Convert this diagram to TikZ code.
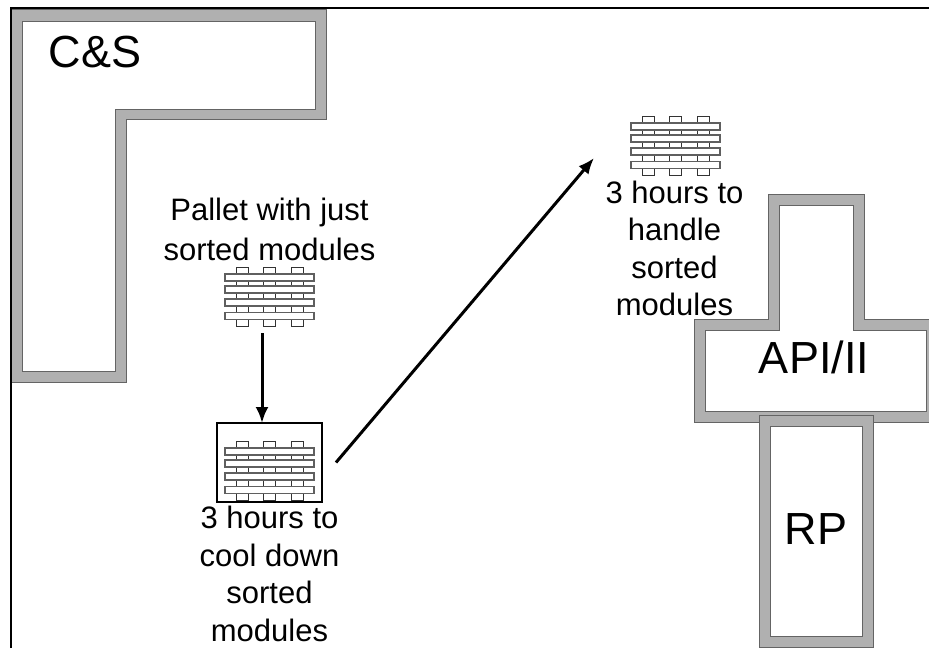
\documentclass[tikz,border=0pt]{standalone}
\usepackage{fontspec}
\setmainfont{Liberation Sans}
\usetikzlibrary{positioning,arrows.meta}
\definecolor{wallgray}{RGB}{176,176,176}
\definecolor{walledge}{RGB}{100,100,100}
\definecolor{baredge}{RGB}{95,95,95}

\begin{document}
\begin{tikzpicture}[
    x=1pt, y=-1pt,
    wall/.style={draw=walledge, line width=1pt, fill=wallgray, line join=miter},
    room/.style={draw=walledge, line width=1pt, fill=white, line join=miter},
    roomname/.style={font=\fontsize{45}{50}\selectfont, inner sep=0pt},
    note/.style={font=\fontsize{31}{37.6}\selectfont, align=center, inner sep=0pt},
    palletspot/.style={minimum width=89pt, minimum height=59pt, inner sep=0pt, outer sep=0pt},
    coolbox/.style={draw, line width=1.8pt, minimum width=105pt, minimum height=79pt, inner sep=0pt, outer sep=0pt},
    arrow/.style={-{Latex[length=16pt,width=13pt]}, line width=3pt},
    pallet/.pic={
        \foreach \px in {-27.5,0,27.5}
            \draw[black!80, line width=0.9pt] (\px-6,-29.5) rectangle (\px+6,29.5);
        \foreach \py in {-19,-7,6,19.5}
            \draw[draw=baredge, fill=white, line width=1.1pt] (-44.5,\py-3.5) rectangle (44.5,\py+3.5);
    }
]
    \useasboundingbox (0,0) rectangle (929,648);
    \clip (0,0) rectangle (929,648);

    % Walls
    \draw[wall] (10.5,9) -- (326,9) -- (326,119) -- (126,119) -- (126,382) -- (10.5,382) -- cycle;
    \draw[room] (22,21) -- (315,21) -- (315,109) -- (115,109) -- (115,371) -- (22,371) -- cycle;
    \draw[wall] (768,194) -- (864,194) -- (864,319) -- (940,319) -- (940,422) -- (694,422) -- (694,319) -- (768,319) -- cycle;
    \draw[room] (779,205) -- (853,205) -- (853,330) -- (926,330) -- (926,411) -- (705,411) -- (705,330) -- (779,330) -- cycle;
    \draw[wall] (759,415) rectangle (873,647);
    \draw[room] (770,426) rectangle (862,636);

    % Frame
    \coordinate (framebottom) at (10.5,648);
    \coordinate (framecorner) at (10.5,8);
    \coordinate (frameright) at (929,8);
    \draw[line width=2pt] (framebottom) -- (framecorner) -- (frameright);

    % Nodes
    \node[roomname] (cands) at (95,52) {C\&S};
    \node[roomname] (apiii) at (814,357) {API/II};
    \node[roomname] (rp) at (816,529) {RP};
    \node[palletspot] (justpallet) at (269.5,296.5) {};
    \node[coolbox] (coolspot) at (269.5,462.5) {};
    \node[palletspot] (coolpallet) at (269.5,470.5) {};
    \node[palletspot] (handlepallet) at (675.5,145.5) {};
    \node[note, above=6pt of justpallet] (justnote) {Pallet with just\\[2pt]sorted modules};
    \node[note, below=4pt of coolspot] (coolnote) {3 hours to\\cool down\\sorted\\modules};
    \node[note, below=5.5pt of handlepallet, xshift=-1pt] (handlenote) {3 hours to\\handle\\sorted\\modules};
    \coordinate (handletip) at (594,158);

    % Pallets
    \pic at (justpallet) {pallet};
    \pic at (coolpallet) {pallet};
    \pic at (handlepallet) {pallet};

    % Arrows
    \draw[arrow] ([xshift=-7.5pt,yshift=-7pt]justpallet.south) -- ([xshift=-7.5pt]coolspot.north);
    \draw[arrow] ([xshift=14pt]coolspot.east) -- (handletip);
\end{tikzpicture}
\end{document}
